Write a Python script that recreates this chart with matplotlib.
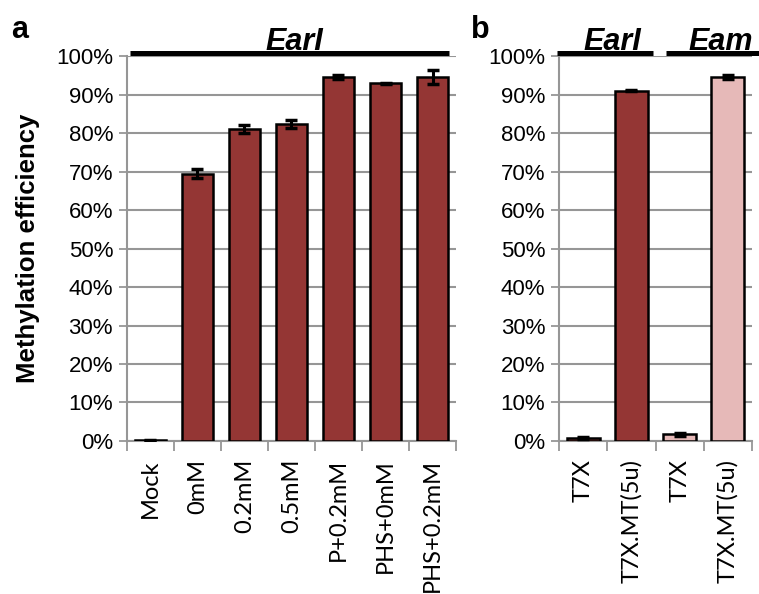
import numpy as np
import matplotlib
matplotlib.use("Agg")
from matplotlib import pyplot as plt, rcParams
from matplotlib import transforms

rcParams["font.family"] = ["Liberation Sans", "DejaVu Sans"]

labels_a = ["Mock", "0mM", "0.2mM", "0.5mM", "P+0.2mM", "PHS+0mM", "PHS+0.2mM"]
values_a = [0.2, 69.4, 81.0, 82.4, 94.6, 92.9, 94.6]
errors_a = [0.1, 1.2, 1.0, 1.0, 0.6, 0.2, 1.9]

labels_b = ["T7X", "T7X.MT(5u)", "T7X", "T7X.MT(5u)"]
values_b = [0.7, 91.0, 1.8, 94.6]
errors_b = [0.3, 0.2, 0.4, 0.6]
groups_b = ["EarI", "EarI", "Eam", "Eam"]

dark = "#943634"
light = "#E6B9B8"
grid_c = "#969696"

fig = plt.figure(figsize=(7.59, 5.94), dpi=100)
ax_a = fig.add_axes([0.1673, 0.2576, 0.4335, 0.648])
ax_b = fig.add_axes([0.7365, 0.2576, 0.2543, 0.648])


def style(ax, labels, values, errors, colors):
    x = np.arange(len(labels))
    ax.bar(x, values, width=0.68, color=colors, edgecolor="black", lw=1.8, zorder=3)
    ax.errorbar(x, values, yerr=errors, fmt="none", ecolor="black",
                elinewidth=2.2, capsize=4.5, capthick=2.5, zorder=4)
    ax.set_xlim(-0.5, len(labels) - 0.5)
    ax.set_ylim(0, 100)
    ax.set_yticks(range(0, 101, 10))
    ax.set_yticklabels([f"{v}%" for v in range(0, 101, 10)], fontsize=16)
    ax.set_xticks(np.arange(len(labels) + 1) - 0.5, minor=True)
    ax.set_xticks(x)
    ax.set_xticklabels(labels, rotation=90, fontsize=17, family="Lato")
    ax.tick_params(axis="x", which="major", length=0, pad=13)
    ax.tick_params(axis="x", which="minor", length=7, color=grid_c, width=1.3)
    ax.tick_params(axis="y", length=6, color=grid_c, width=1.3, pad=4)
    ax.grid(axis="y", color=grid_c, lw=1.5, zorder=0)
    for s in ["top", "right"]:
        ax.spines[s].set_visible(False)
    for s in ["left", "bottom"]:
        ax.spines[s].set_color(grid_c)
        ax.spines[s].set_linewidth(1.5)


style(ax_a, labels_a, values_a, errors_a, dark)
style(ax_b, labels_b, values_b, errors_b,
      [dark if g == "EarI" else light for g in groups_b])

ax_a.set_ylabel("Methylation efficiency", fontsize=18.5, fontweight="bold")
ax_a.yaxis.set_label_coords(-0.264, 0.5)

# header lines with enzyme names
tr_a = transforms.blended_transform_factory(ax_a.transData, ax_a.transAxes)
ax_a.plot([-0.44, 6.35], [1.009, 1.009], color="black", lw=3.6,
          clip_on=False, transform=tr_a, solid_capstyle="butt", zorder=5)
ax_a.text(3.05, 1.0156, "EarI", transform=tr_a, ha="center", va="baseline",
          fontsize=22, fontweight="bold", style="italic")

tr_b = transforms.blended_transform_factory(ax_b.transData, ax_b.transAxes)
for (x0, x1), xc, name in [((-0.54, 1.44), 0.60, "EarI"), ((1.71, 3.65), 2.85, "Eam")]:
    ax_b.plot([x0, x1], [1.009, 1.009], color="black", lw=3.6,
              clip_on=False, transform=tr_b, solid_capstyle="butt", zorder=5)
    ax_b.text(xc, 1.0156, name, transform=tr_b, ha="center", va="baseline",
              fontsize=22, fontweight="bold", style="italic")

fig.text(0.015, 0.936, "a", fontsize=22, fontweight="bold")
fig.text(0.620, 0.936, "b", fontsize=22, fontweight="bold")

fig.savefig("out.png", dpi=100)
